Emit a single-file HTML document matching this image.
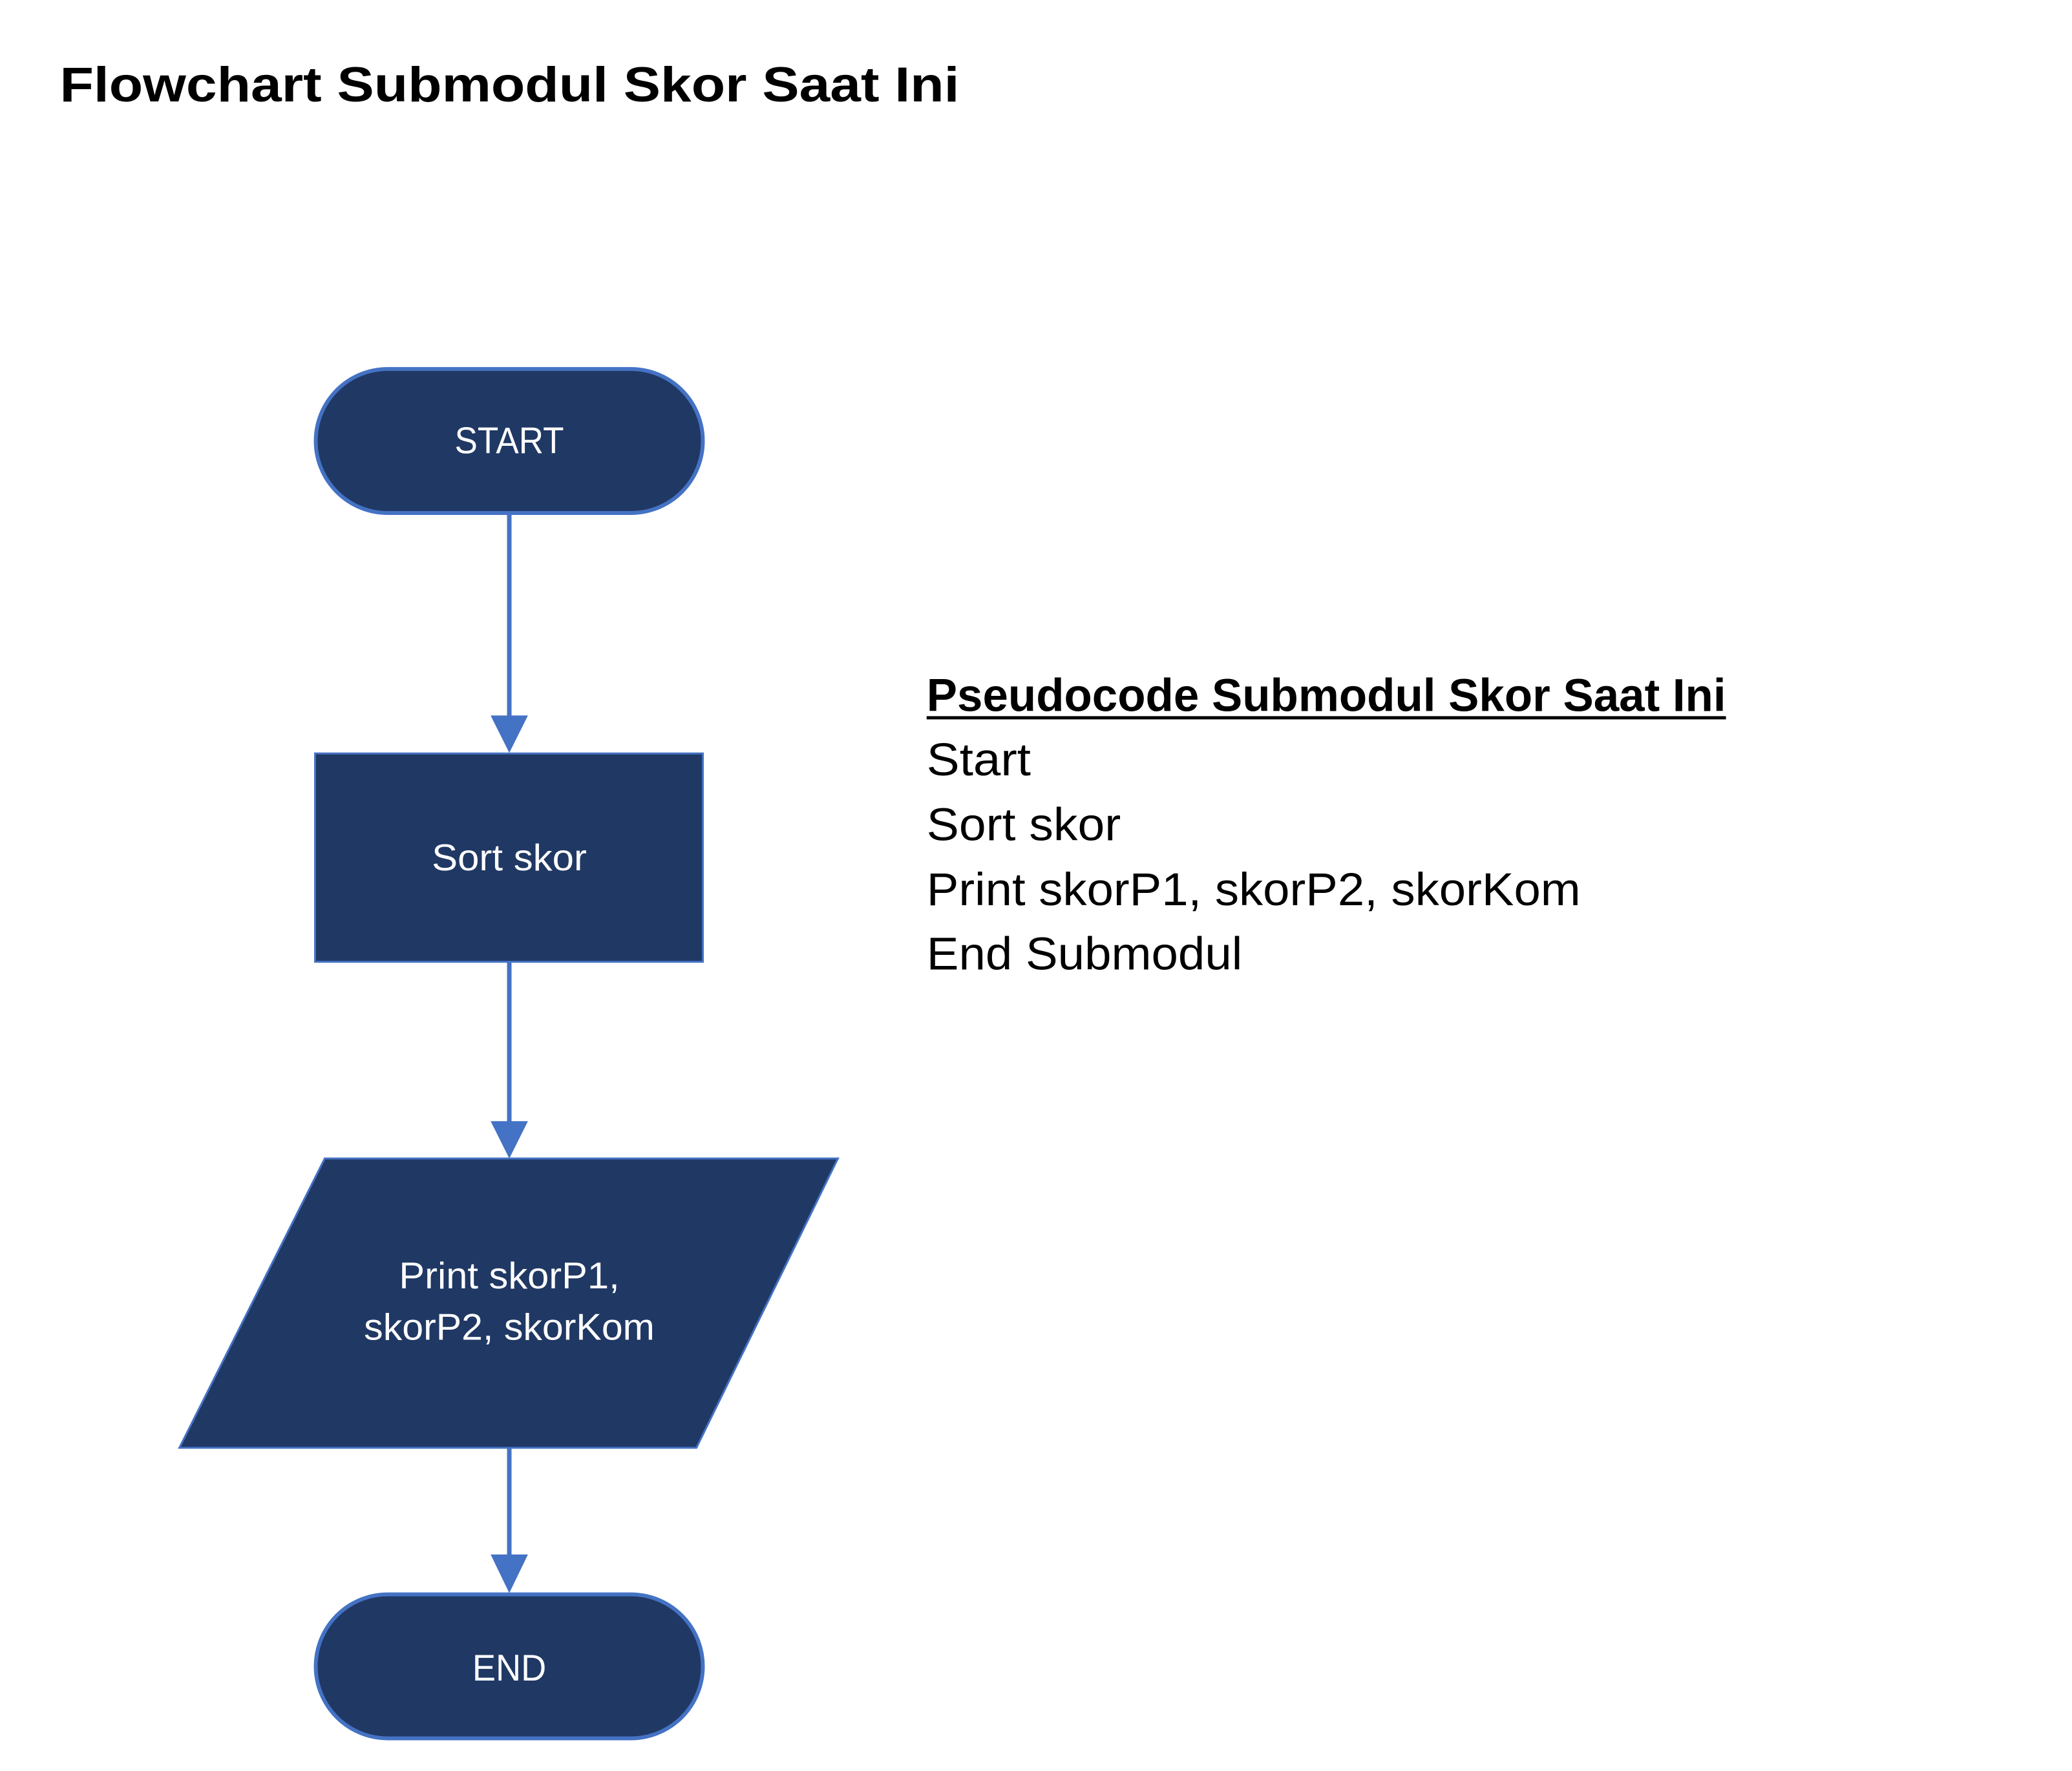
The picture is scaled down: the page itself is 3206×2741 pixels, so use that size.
<!DOCTYPE html>
<html><head><meta charset="utf-8"><style>
html,body{margin:0;padding:0;background:#fff;}
svg{display:block;}
text{font-family:"Liberation Sans",sans-serif;}
</style></head><body>
<svg width="3206" height="2741" viewBox="0 0 3206 2741" xmlns="http://www.w3.org/2000/svg">
<rect width="3206" height="2741" fill="#fff"/>
<g transform="translate(-2,-2) scale(0.995)">
<text x="95" y="160" font-size="76" font-weight="bold" fill="#000" textLength="1399" lengthAdjust="spacingAndGlyphs">Flowchart Submodul Skor Saat Ini</text>

<g stroke="#4472C4" stroke-width="6" fill="#203864">
<rect x="493" y="576" width="602" height="224" rx="112" ry="112"/>
<rect x="492" y="1174" width="603" height="324" stroke-width="3"/>
<polygon points="507,1804 1305,1804 1085,2254 281,2254" stroke-width="3"/>
<rect x="493" y="2482" width="602" height="224" rx="112" ry="112"/>
</g>

<g stroke="#4472C4" stroke-width="7">
<line x1="794" y1="801" x2="794" y2="1120"/>
<line x1="794" y1="1498" x2="794" y2="1750"/>
<line x1="794" y1="2254" x2="794" y2="2425"/>
</g>
<g fill="#4472C4">
<polygon points="765,1115 823,1115 794,1173"/>
<polygon points="765,1746 823,1746 794,1804"/>
<polygon points="765,2420 823,2420 794,2480"/>
</g>

<g fill="#fff" font-size="58" text-anchor="middle">
<text x="794" y="707" textLength="170" lengthAdjust="spacingAndGlyphs">START</text>
<text x="794" y="1356" textLength="241" lengthAdjust="spacingAndGlyphs">Sort skor</text>
<text x="794" y="2006" textLength="343" lengthAdjust="spacingAndGlyphs">Print skorP1,</text>
<text x="794" y="2086" textLength="452" lengthAdjust="spacingAndGlyphs">skorP2, skorKom</text>
<text x="794" y="2616" textLength="115" lengthAdjust="spacingAndGlyphs">END</text>
</g>

<g fill="#000" font-size="72">
<text x="1443" y="1108" font-weight="bold" textLength="1243" lengthAdjust="spacingAndGlyphs">Pseudocode Submodul Skor Saat Ini</text>
<rect x="1443" y="1116" width="1243" height="5"/>
<text x="1443" y="1208" textLength="162" lengthAdjust="spacingAndGlyphs">Start</text>
<text x="1443" y="1309" textLength="302" lengthAdjust="spacingAndGlyphs">Sort skor</text>
<text x="1443" y="1410" textLength="1017" lengthAdjust="spacingAndGlyphs">Print skorP1, skorP2, skorKom</text>
<text x="1443" y="1510" textLength="491" lengthAdjust="spacingAndGlyphs">End Submodul</text>
</g>
</g>
</svg>
</body></html>
